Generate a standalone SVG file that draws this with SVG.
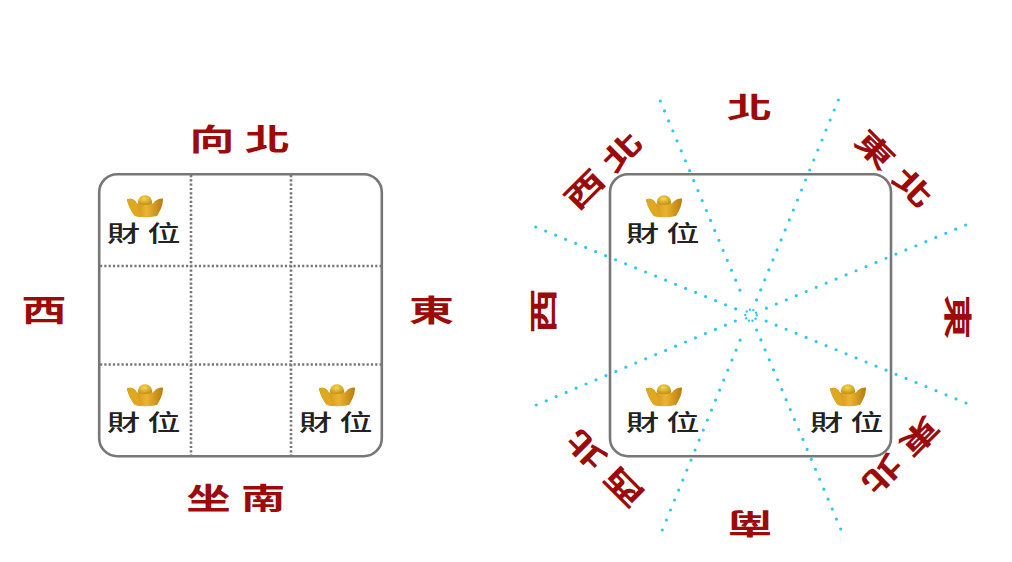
<svg xmlns="http://www.w3.org/2000/svg" width="1012" height="562" viewBox="0 0 1012 562">
<style>
text{font-family:"Noto Sans CJK TC","Noto Sans CJK SC",sans-serif;text-anchor:middle}
.dir{fill:#9c0a0a;font-size:30px;font-weight:700}
.cai{fill:#222;font-size:22px;font-weight:500}
.box{fill:#fff;stroke:#777;stroke-width:2.6}
.grid{stroke:#777;stroke-width:2.6;stroke-dasharray:2.2 2.1;fill:none}
.ray{stroke:#2cc8f0;stroke-width:3.2;stroke-linecap:round;stroke-dasharray:0 10.8;fill:none}
</style>
<defs>
<linearGradient id="gold" x1="0" x2="1" y1="0" y2="0"><stop offset="0" stop-color="#c07e0a"/><stop offset=".55" stop-color="#eab432"/><stop offset="1" stop-color="#b87c0c"/></linearGradient>
<radialGradient id="dome" cx=".45" cy=".35" r=".7"><stop offset="0" stop-color="#f8d850"/><stop offset="1" stop-color="#c08a10"/></radialGradient>
<g id="ingot">
<path d="M-18,-7 C-14,-9 -10,-7 -8,-3 L8,-3 C11,-7 14,-8 18,-8 C18,-1 15,5 12,9.5 Q0,12 -10,9.5 C-14,5 -17,-2 -18,-7Z" fill="url(#gold)"/>
<path d="M-18,-7 C-14,-9 -10,-7 -8,-2 L-4,10.5 L-10,9.5 C-14,5 -17,-2 -18,-7Z" fill="#e0a81e"/>
<path d="M-7,-3 C-8,-14 8,-14 7,-3 Q0,0 -7,-3Z" fill="url(#dome)"/>
</g>
</defs>
<g id="connectors">
<path class="ray" d="M660.3,101 L744,300"/>
<path class="ray" d="M840.7,529 L756.7,330"/>
<path class="ray" d="M838.3,100 L756.3,300.7"/>
<path class="ray" d="M662.3,530 L744,330.7"/>
<path class="ray" d="M965.7,225 L766,308.3"/>
<path class="ray" d="M536.3,405 L736,320.7"/>
<path class="ray" d="M535.7,227 L736,309"/>
<path class="ray" d="M966,403 L766,321"/>
<circle class="ray" cx="751" cy="315.3" r="5.7" style="stroke-width:2.4;stroke-dasharray:0 3.58"/>
</g>
<g id="plan-left">
<rect class="box" x="99.2" y="174.2" width="282.6" height="282" rx="18"/>
<path class="grid" d="M191,175V456M291,175V456M100,266H381M100,364.5H381"/>
</g>
<g id="plan-right">
<rect x="610" y="174.2" width="281" height="282" rx="18" fill="none" stroke="#777" stroke-width="2.6"/>
</g>
<g id="xiang-bei"><text class="dir" transform="translate(245,149.5) scale(1.5,1)" style="letter-spacing:7px">向北</text></g>
<g id="zuo-nan"><text class="dir" transform="translate(241,509) scale(1.48,1)" style="letter-spacing:7px">坐南</text></g>
<g id="west-l"><text class="dir" transform="translate(44,321) scale(1.5,1)">西</text></g>
<g id="east-l"><text class="dir" transform="translate(431.5,321) scale(1.5,1)">東</text></g>
<g id="n"><text class="dir" transform="translate(749.5,118) scale(1.5,.95)">北</text></g>
<g id="ne"><text class="dir" transform="translate(897.25,172.75) rotate(45) translate(0,10) scale(1.42,.95)" style="letter-spacing:7.5px">東北</text></g>
<g id="e"><text class="dir" transform="translate(957,317) rotate(90) translate(0,10) scale(1.5,.95)">東</text></g>
<g id="se"><text class="dir" transform="translate(896.75,458.75) rotate(135) translate(0,10) scale(1.42,.95)" style="letter-spacing:7.5px">東北</text></g>
<g id="s"><text class="dir" transform="translate(750,523) rotate(180) translate(0,10) scale(1.5,.95)">南</text></g>
<g id="sw"><text class="dir" transform="translate(601.75,464.25) rotate(-135) translate(0,10) scale(1.42,.95)" style="letter-spacing:7.5px">西北</text></g>
<g id="w"><text class="dir" transform="translate(544,311) rotate(-90) translate(0,10) scale(1.5,.95)">西</text></g>
<g id="nw"><text class="dir" transform="translate(607.25,167.25) rotate(-45) translate(0,10) scale(1.42,.95)" style="letter-spacing:7.5px">西北</text></g>
<g id="cai-1"><use href="#ingot" x="145" y="206.5"/><text class="cai" transform="translate(147.5,241) scale(1.5,1)" style="letter-spacing:5px">財位</text></g>
<g id="cai-2"><use href="#ingot" x="145" y="395.5"/><text class="cai" transform="translate(147.5,430) scale(1.5,1)" style="letter-spacing:5px">財位</text></g>
<g id="cai-3"><use href="#ingot" x="337" y="395.5"/><text class="cai" transform="translate(339.5,430) scale(1.5,1)" style="letter-spacing:5px">財位</text></g>
<g id="cai-4"><use href="#ingot" x="664" y="206.5"/><text class="cai" transform="translate(666.5,241) scale(1.5,1)" style="letter-spacing:5px">財位</text></g>
<g id="cai-5"><use href="#ingot" x="664" y="395.5"/><text class="cai" transform="translate(666.5,430) scale(1.5,1)" style="letter-spacing:5px">財位</text></g>
<g id="cai-6"><use href="#ingot" x="848" y="395.5"/><text class="cai" transform="translate(850.5,430) scale(1.5,1)" style="letter-spacing:5px">財位</text></g>
</svg>
